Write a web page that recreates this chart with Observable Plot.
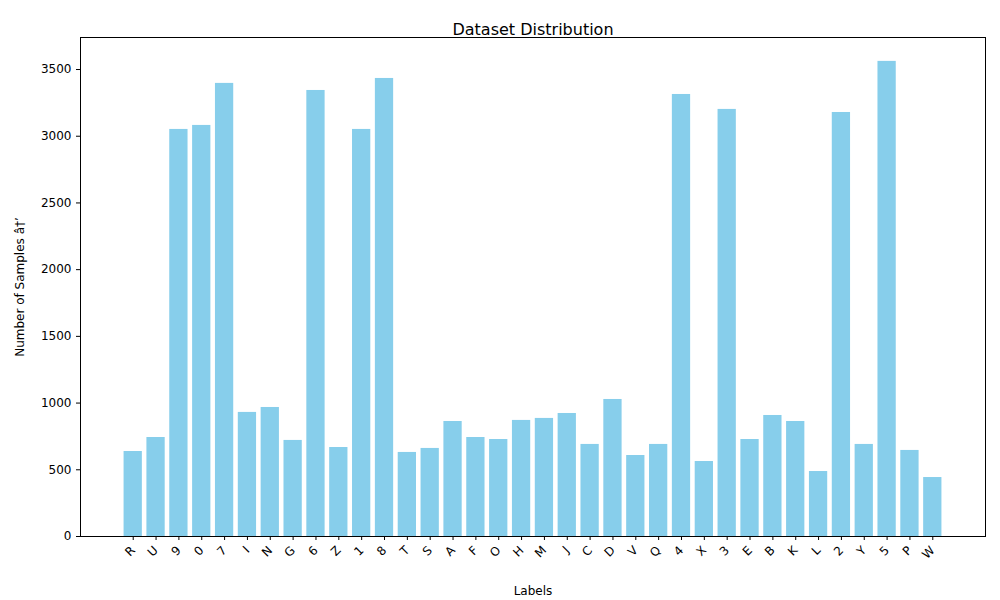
<!DOCTYPE html>
<html><head>
<script src="https://cdn.jsdelivr.net/npm/d3@7"></script>
<script src="https://cdn.jsdelivr.net/npm/@observablehq/plot@0.6"></script>
<style>body{margin:0;background:#fff;font-family:"DejaVu Sans",sans-serif}</style>
</head><body><div id="c"></div>
<script>
const labels = ["R","U","9","0","7","I","N","G","6","Z","1","8","T","S","A","F","O","H","M","J","C","D","V","Q","4","X","3","E","B","K","L","2","Y","5","P","W"];
const counts = [637,742,3051,3081,3396,930,967,720,3343,667,3051,3433,630,660,862,742,727,870,885,922,690,1027,607,690,3313,562,3201,727,907,862,487,3178,690,3561,645,442];
const yTicks = [0,500,1000,1500,2000,2500,3000,3500];
const data = labels.map((l,i)=>({label:l,count:counts[i]}));
const chart = Plot.plot({
  width:1000, height:600,
  marginLeft:80, marginRight:15, marginTop:37, marginBottom:64,
  style:{fontFamily:"DejaVu Sans", fontSize:"12px", color:"#000"},
  x:{domain:labels, padding:0.2, insetLeft:39, insetRight:39, label:"Labels", labelAnchor:"center", labelOffset:58, tickRotate:-45, tickSize:4},
  y:{domain:[0,3740], ticks:yTicks, label:"Number of Samples", labelAnchor:"center", labelOffset:65, tickSize:4, tickFormat:d=>String(d)},
  marks:[
    Plot.barY(data,{x:"label", y:"count", fill:"#87ceeb"}),
    Plot.frame({stroke:"#000"}),
    Plot.text(["Dataset Distribution"],{frameAnchor:"top", dy:-14, fontSize:16})
  ]
});
document.getElementById("c").appendChild(chart);
</script></body></html>
